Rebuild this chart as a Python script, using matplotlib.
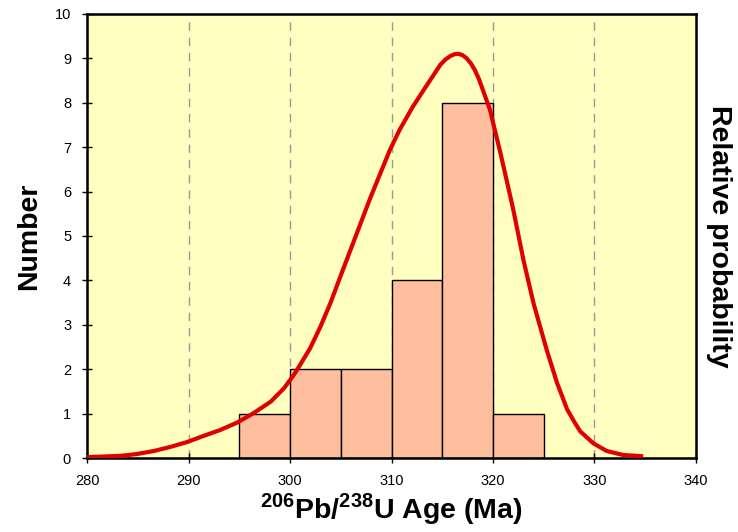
import matplotlib
matplotlib.use("Agg")
import matplotlib.pyplot as plt

plt.rcParams["font.family"] = ["Liberation Sans", "DejaVu Sans"]
plt.rcParams["mathtext.fontset"] = "custom"
plt.rcParams["mathtext.rm"] = "Liberation Sans:bold"
plt.rcParams["mathtext.bf"] = "Liberation Sans:bold"

# ── data ───────────────────────────────────────────────────────────────────
bin_left = [295, 300, 305, 310, 315, 320]
bin_width = 5
counts = [1, 2, 2, 4, 8, 1]

curve_age = [280, 283.3, 284.9, 286.6, 288.2, 289.85, 291.5, 293.1, 294.8,
             296.4, 298.1, 299.4, 300.4, 301.0, 302.0, 303.0, 304.0, 304.9,
             305.9, 306.9, 307.9, 308.9, 309.85, 310.8, 312.1, 313.5, 314.8,
             315.3, 315.8, 316.2, 316.6, 317.0, 317.4, 317.8, 318.2, 318.6,
             319.0, 319.7, 320.7, 321.4, 322.0, 322.7, 323.0, 324.0, 325.3,
             326.3, 327.3, 328.0, 328.6, 329.9, 331.2, 332.8, 334.8]
curve_prob = [0.02, 0.05, 0.09, 0.16, 0.25, 0.36, 0.50, 0.63, 0.80,
              1.01, 1.27, 1.57, 1.88, 2.10, 2.48, 2.96, 3.50, 4.05,
              4.65, 5.25, 5.85, 6.41, 6.94, 7.39, 7.91, 8.40, 8.85,
              8.97, 9.05, 9.09, 9.10, 9.07, 9.00, 8.89, 8.74, 8.54,
              8.29, 7.84, 6.90, 6.20, 5.59, 4.80, 4.46, 3.48, 2.43,
              1.70, 1.10, 0.82, 0.60, 0.33, 0.16, 0.07, 0.04]

x_ticks = [280, 290, 300, 310, 320, 330, 340]
grid_x = [290, 300, 310, 320, 330]

BG = "#ffffc0"
BAR = "#ffbf9f"
RED = "#e00000"

fig = plt.figure(figsize=(7.38, 5.32), dpi=100)
ax = fig.add_axes([0.118, 0.139, 0.825, 0.835])
ax.set_facecolor(BG)

for gx in grid_x:
    ax.axvline(gx, color="#999999", linestyle=(0, (6, 5)), linewidth=1.0, zorder=1)

ax.bar(bin_left, counts, width=bin_width, align="edge", color=BAR,
       edgecolor="black", linewidth=1.0, zorder=2)

ax.set_xlim(280, 340)
ax.set_ylim(0, 10)
ax.set_xticks(x_ticks)
ax.set_yticks(range(0, 11))
ax.tick_params(direction="inout", length=7, width=1.0, labelsize=10.5, pad=8)
ax.set_xlabel("$^{206}$Pb/$^{238}$U Age (Ma)", fontsize=20.5, fontweight="bold",
              labelpad=2)
ax.set_ylabel("Number", fontsize=20.5, fontweight="bold")
ax.yaxis.set_label_coords(-0.074, 0.5)
for s in ax.spines.values():
    s.set_linewidth(1.8)

# ── relative probability curve on a twin axis ─────────────────────────────
ax2 = ax.twinx()
ax2.plot(curve_age, curve_prob, color=RED, linewidth=3, zorder=3,
         solid_joinstyle="round", solid_capstyle="butt")
ax2.set_ylim(0, 10)
ax2.set_yticks([])
ax2.set_ylabel("Relative probability", fontsize=20.5, fontweight="bold",
               rotation=-90, labelpad=26)

fig.savefig("out.png", dpi=100)
